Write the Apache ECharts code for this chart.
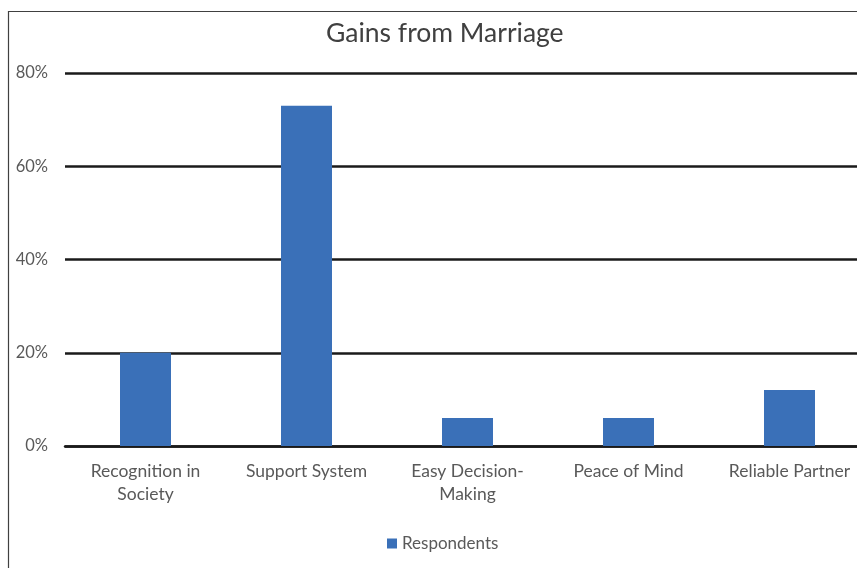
<!DOCTYPE html>
<html><head><meta charset="utf-8">
<script src="https://cdn.jsdelivr.net/npm/echarts@6/dist/echarts.min.js"></script>
<style>html,body{margin:0;padding:0;background:#fff}#c{width:857px;height:568px}</style>
</head><body><div id="c"></div>
<script>
const categories = ["Recognition in\nSociety", "Support System", "Easy Decision-\nMaking", "Peace of Mind", "Reliable Partner"];
const respondents = [20, 73, 6, 6, 12];
const yTicks = [0, 20, 40, 60, 80];
const title = "Gains from Marriage";
const seriesName = "Respondents";

const chart = echarts.init(document.getElementById('c'), null, {renderer: 'canvas'});
const font = 'Lato, "Open Sans", sans-serif';
chart.setOption({
  animation: false,
  backgroundColor: '#fff',
  graphic: [
    {type: 'rect', shape: {x: 8.5, y: 11.5, width: 1000, height: 700}, style: {fill: null, stroke: '#404040', lineWidth: 1.2}, silent: true, z: -1},
    {type: 'text', left: 444 - 118, top: 20, style: {text: title, font: '26.5px ' + font, fill: '#404040'}}
  ],
  legend: {bottom: 11, left: 382, itemWidth: 10, itemHeight: 10, icon: 'rect', itemGap: 6,
    textStyle: {fontFamily: font, fontSize: 17, color: '#595959'}, data: [seriesName]},
  grid: {left: 65, right: -13, top: 73, bottom: 122, containLabel: false, outerBoundsMode: 'none'},
  xAxis: {type: 'category', data: categories,
    axisLine: {show: true, lineStyle: {color: '#1a1a1a', width: 2.5}},
    axisTick: {show: false},
    axisLabel: {fontFamily: font, fontSize: 17.5, color: '#595959', margin: 14, lineHeight: 23, interval: 0}},
  yAxis: {type: 'value', min: yTicks[0], max: yTicks[yTicks.length - 1], interval: 20,
    axisLine: {show: false}, axisTick: {show: false},
    axisLabel: {fontFamily: font, fontSize: 16.5, color: '#595959', margin: 17, formatter: v => v + '%'},
    splitLine: {lineStyle: {color: '#1a1a1a', width: 2.5}}},
  series: [{name: seriesName, type: 'bar', data: respondents, barWidth: 51,
    itemStyle: {color: '#3a70b8'}}]
});
</script></body></html>
